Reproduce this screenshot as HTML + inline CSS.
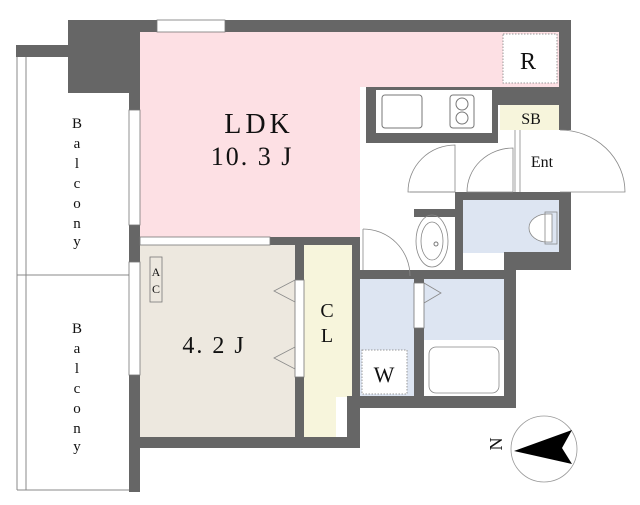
<!DOCTYPE html>
<html><head><style>body{margin:0;background:#fff}svg{display:block}text{font-family:"Liberation Serif",serif;fill:#111}</style></head><body>
<svg width="640" height="505" viewBox="0 0 640 505" xmlns="http://www.w3.org/2000/svg">
<!-- balcony -->
<rect x="16" y="45" width="56" height="12" fill="#666"/>
<line x1="17" y1="57" x2="17" y2="490" stroke="#888"/>
<line x1="26" y1="57" x2="26" y2="490" stroke="#888"/>
<line x1="17" y1="490" x2="129" y2="490" stroke="#888"/>
<line x1="17" y1="275" x2="129" y2="275" stroke="#888"/>
<!-- floors -->
<rect x="140" y="32" width="420" height="55" fill="#fde0e4"/>
<rect x="140" y="32" width="220" height="205" fill="#fde0e4"/>
<rect x="140" y="245" width="155" height="192" fill="#ede8df"/>
<path d="M304 245H352V397H336V437H304Z" fill="#f7f5dc"/>
<rect x="500" y="105" width="59" height="25" fill="#f7f5dc"/>
<rect x="463" y="200" width="96" height="53" fill="#dde5f2"/>
<rect x="360" y="279" width="54" height="117" fill="#dde5f2"/>
<rect x="424" y="279" width="80" height="61" fill="#dde5f2"/>
<!-- walls -->
<g fill="#666">
<rect x="68" y="20" width="503" height="12"/>
<rect x="68" y="20" width="72" height="73"/>
<rect x="129" y="20" width="11" height="90"/>
<rect x="129" y="225" width="11" height="37"/>
<rect x="129" y="375" width="11" height="117"/>
<rect x="129" y="437" width="218" height="11"/>
<rect x="559" y="20" width="12" height="110"/>
<rect x="559" y="192" width="12" height="60"/>
<rect x="505" y="252" width="66" height="18"/>
<rect x="504" y="252" width="12" height="156"/>
<rect x="347" y="396" width="169" height="12"/>
<rect x="347" y="396" width="13" height="52"/>
<rect x="295" y="237" width="9" height="200"/>
<rect x="352" y="237" width="8" height="160"/>
<rect x="270" y="237" width="90" height="8"/>
<rect x="366" y="87" width="132" height="56"/>
<rect x="492" y="87" width="67" height="18"/>
<rect x="455" y="192" width="8" height="78"/>
<rect x="414" y="209" width="49" height="8"/>
<rect x="360" y="270" width="156" height="9"/>
<rect x="414" y="279" width="10" height="117"/>
<rect x="455" y="192" width="104" height="8"/>
</g>
<rect x="376" y="90" width="116" height="43" fill="#fff"/>
<rect x="382" y="95" width="40" height="33" rx="3" fill="none" stroke="#777"/>
<rect x="450" y="95" width="24" height="33" rx="3" fill="none" stroke="#777"/>
<circle cx="462" cy="104" r="6" fill="none" stroke="#777"/><circle cx="462" cy="118" r="6" fill="none" stroke="#777"/>
<!-- windows -->
<g fill="#fff" stroke="#777" stroke-width="0.8">
<rect x="157" y="20" width="68" height="12"/>
<rect x="129" y="110" width="11" height="115"/>
<rect x="129" y="262" width="11" height="113"/>
<rect x="140" y="237" width="130" height="8"/>
<rect x="295" y="280" width="9" height="97"/>
<rect x="414" y="283" width="10" height="45"/>
</g>
<!-- doors -->
<g fill="none" stroke="#888" stroke-width="0.8">
<path d="M455 192V145A47 47 0 0 0 408 192H455"/>
<path d="M513 192V148A46 44 0 0 0 467 192H513"/>
<line x1="410" y1="192" x2="455" y2="192"/>
<path d="M560 130A65 62 0 0 1 625 192H560"/>
<line x1="520" y1="130" x2="520" y2="192"/><line x1="515" y1="130" x2="515" y2="192"/>
<path d="M363 229A47 47 0 0 1 410 276"/><line x1="363" y1="229" x2="363" y2="270"/>
<ellipse cx="432" cy="241" rx="16" ry="26"/><ellipse cx="432" cy="241" rx="11" ry="19"/>
<path d="M274 291L295 280V302Z M274 358L295 347V369Z M424 283L441 293L424 303"/>
<rect x="429" y="347" width="70" height="46" rx="7"/>
<path d="M547 214A18 14 0 1 0 547 242H552V214Z" fill="#fff"/>
<rect x="545" y="212" width="12" height="32"/>
<circle cx="544" cy="449" r="33" stroke="#999"/>
</g>
<circle cx="436" cy="244" r="2" fill="none" stroke="#777"/>
<rect x="150" y="257" width="12" height="45" fill="none" stroke="#777" stroke-width="0.8"/>
<rect x="503" y="34" width="54" height="49" fill="#fff" stroke="#999" stroke-dasharray="1.5,1.5"/>
<rect x="362" y="350" width="45" height="44" fill="#fff" stroke="#999" stroke-dasharray="1.5,1.5"/>
<path d="M514 451L572 430L562 448L572 464Z" fill="#000"/>
<!-- labels -->
<text x="259" y="133" font-size="28" text-anchor="middle" letter-spacing="4">LDK</text>
<text x="252" y="165" font-size="26" text-anchor="middle" letter-spacing="2">10. 3 J</text>
<text x="214" y="353" font-size="24" text-anchor="middle" letter-spacing="2">4. 2 J</text>
<text x="327" y="317" font-size="20" text-anchor="middle">C</text>
<text x="327" y="342" font-size="20" text-anchor="middle">L</text>
<text x="528" y="69" font-size="24" text-anchor="middle">R</text>
<text x="531" y="124" font-size="16" text-anchor="middle">SB</text>
<text x="542" y="167" font-size="16" text-anchor="middle">Ent</text>
<text x="384" y="382" font-size="22" text-anchor="middle">W</text>
<text x="156" y="276" font-size="12" text-anchor="middle">A</text>
<text x="156" y="293" font-size="12" text-anchor="middle">C</text>
<text x="507" y="449" font-size="18" text-anchor="middle" transform="rotate(-90 502 449)">N</text>
<g font-size="15" text-anchor="middle">
<text x="77" y="128">B</text><text x="77" y="148">a</text><text x="77" y="168">l</text><text x="77" y="188">c</text><text x="77" y="208">o</text><text x="77" y="228">n</text><text x="77" y="246">y</text>
<text x="77" y="333">B</text><text x="77" y="353">a</text><text x="77" y="373">l</text><text x="77" y="393">c</text><text x="77" y="413">o</text><text x="77" y="433">n</text><text x="77" y="451">y</text>
</g>
</svg>
</body></html>
